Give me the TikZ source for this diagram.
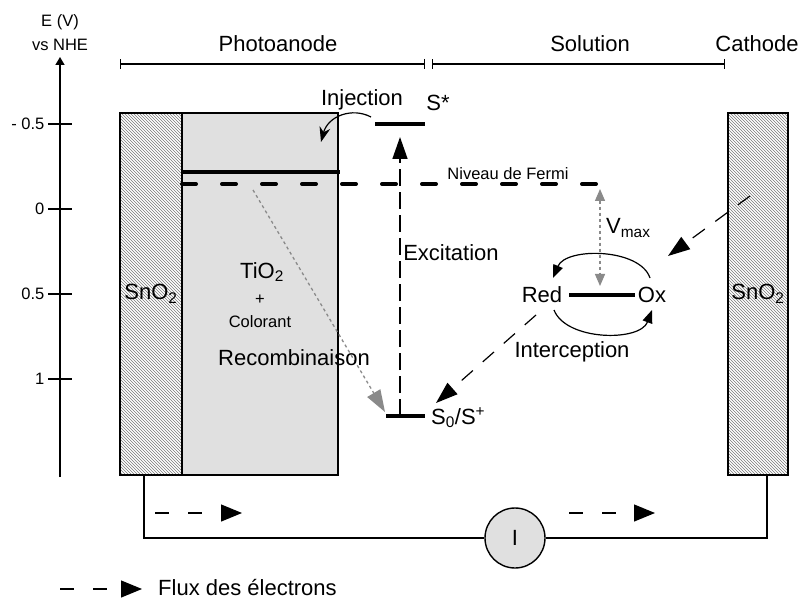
\documentclass[tikz,border=0pt]{standalone}
\usepackage{fontspec}
\setmainfont{Liberation Sans}
\usetikzlibrary{positioning, arrows.meta, patterns, calc}
\definecolor{tiog}{HTML}{E0E0E0}
\definecolor{hatch}{HTML}{7A7A7A}
\definecolor{dotg}{HTML}{8A8A8A}
\tikzset{
  big/.style={font=\fontsize{22}{26}\selectfont, inner sep=0pt},
  sml/.style={font=\fontsize{16.5}{19}\selectfont, inner sep=0pt},
  eaxis/.style={line width=1.4pt},
  brk/.style={{Bar[width=10pt]}-{Bar[width=10pt]}, line width=1.2pt},
  snbox/.style={draw, pattern=north west lines, pattern color=hatch, line width=1.4pt,
                minimum width=#1, minimum height=362pt, inner sep=0pt,
                font=\fontsize{22}{26}\selectfont},
  tiobox/.style={draw, fill=tiog, line width=1.4pt, minimum width=156pt, minimum height=362pt},
  lvl/.style={line width=4pt},
  fermi/.style={line width=4pt, line cap=round, dash pattern=on 14pt off 26pt},
  exc/.style={-{Triangle[length=22pt, width=15pt]}, line width=1.5pt, dash pattern=on 17pt off 6pt},
  edsh/.style={-{Triangle[length=22pt, width=15pt]}, line width=1.2pt, dash pattern=on 15pt off 13pt},
  rec/.style={-{Triangle[length=22pt, width=15pt]}, draw=dotg, line width=1.3pt, dash pattern=on 3pt off 3pt},
  vmx/.style={{Triangle[length=12pt, width=10pt]}-{Triangle[length=12pt, width=10pt]}, draw=dotg,
              line width=1.3pt, dash pattern=on 3pt off 3pt},
  cyc/.style={-{Triangle[length=13pt, width=10pt]}, line width=1.2pt},
  inj/.style={-{Stealth[length=15pt, width=11pt]}, line width=1.2pt},
  wire/.style={line width=2.2pt},
  flow/.style={-{Triangle[length=21pt, width=17pt]}, line width=1.2pt, dash pattern=on 14pt off 19pt},
  meter/.style={circle, draw, fill=tiog, line width=1.4pt, minimum size=60pt, inner sep=0pt,
                font=\fontsize{22}{26}\selectfont},
}

\begin{document}
\begin{tikzpicture}[x=1pt, y=-1pt]
  \fill[white] (0,0) rectangle (802,601);
  \useasboundingbox (0,0) rectangle (802,601);

  % energy axis
  \coordinate (axb) at (60,477);
  \coordinate (axt) at (60,57);
  \draw[eaxis, -{Triangle[length=8pt, width=9pt]}] (axb) -- (axt);
  \node[sml] (eunit) at (60,22) {E (V)};
  \node[sml] (nhe)   at (60,45) {vs NHE};
  \foreach \v/\y in {- 0.5/124, 0/209, 0.5/294, 1/379}
    \draw[eaxis] (48,\y) -- (72,\y) node[sml, pos=0, anchor=east, xshift=-3pt] {\v};

  % zones
  \coordinate (pha) at (120,64);
  \coordinate (phb) at (425,64);
  \coordinate (sla) at (432,64);
  \coordinate (slb) at (725,64);
  \draw[brk] (pha) -- (phb);
  \draw[brk] (sla) -- (slb);
  \node[big] (phot) at (278,44) {Photoanode};
  \node[big] (solu) at (590,44) {Solution};
  \node[big] (cath) at (757,44) {Cathode};

  % electrodes
  \node[tiobox]         (tio) at (260,294) {};
  \node[snbox=62pt]     (snl) at (151,294) {SnO\textsubscript{2}};
  \node[snbox=60pt]     (snr) at (758,294) {SnO\textsubscript{2}};
  \node[big] (tiot) at (262,272) {TiO\textsubscript{2}};
  \node[sml] (plus) at (260,300) {+};
  \node[sml] (colo) at (260,322) {Colorant};

  % levels
  \coordinate (cba) at (182,172);
  \coordinate (cbb) at (340,172);
  \draw[lvl] (cba) -- (cbb);
  \coordinate (fla) at (182,184);
  \coordinate (flb) at (600,184);
  \draw[fermi] (fla) -- (flb);
  \node[sml] (ferm) at (508,174) {Niveau de Fermi};
  \coordinate (ssa) at (375,124);
  \coordinate (ssb) at (425,124);
  \draw[lvl] (ssa) -- (ssb);
  \node[big] (sstar) at (438,103) {S*};
  \coordinate (s0a) at (386,416);
  \coordinate (s0b) at (425,416);
  \draw[lvl] (s0a) -- (s0b);
  \node[big, anchor=west] (szero) at (431,418) {S\textsubscript{0}/S\textsuperscript{+}};

  % injection, excitation, recombination
  \node[big] (injt) at (362,100) {Injection};
  \coordinate (inja) at (371,117);
  \coordinate (injb) at (321,142);
  \draw[inj] (inja) .. controls (352,107) and (328,116) .. (injb);
  \coordinate (exa) at (400,416);
  \coordinate (exb) at (400,137);
  \draw[exc] (exa) -- (exb);
  \node[big] (exct) at (451,253) {Excitation};
  \coordinate (rca) at (253,190);
  \coordinate (rcb) at (385,412);
  \draw[rec] (rca) -- (rcb);
  \node[big] (rect) at (294,358) {Recombinaison};

  % redox couple
  \node[big] (red) at (542,295) {Red};
  \node[big] (ox)  at (652,295) {Ox};
  \draw[lvl] ([xshift=7pt]red.east) -- ([xshift=-3pt]ox.west);
  \coordinate (vma) at (600,189);
  \coordinate (vmb) at (600,286);
  \draw[vmx] (vma) -- (vmb);
  \node[big, anchor=west] (vmax) at (606,228) {V\textsubscript{max}};
  \coordinate (oxt)  at (650,278);
  \coordinate (redt) at (553,278);
  \coordinate (redb) at (554,310);
  \coordinate (oxb)  at (652,310);
  \draw[cyc] (oxt) .. controls (640,248) and (566,247) .. (redt);
  \draw[cyc] (redb) .. controls (566,341) and (640,342) .. (oxb);
  \node[big] (intc) at (572,352) {Interception};
  \coordinate (rda) at (536,315);
  \coordinate (rdb) at (436,403);
  \draw[edsh] (rda) -- (rdb);
  \coordinate (cta) at (750,196);
  \coordinate (ctb) at (668,256);
  \draw[edsh] (cta) -- (ctb);

  % external circuit
  \coordinate (cl) at (144,475);
  \coordinate (cr) at (767,475);
  \node[meter] (mtr) at (515,538) {I};
  \draw[wire] (cl) |- (mtr);
  \draw[wire] (mtr) -| (cr);
  \coordinate (fwa) at (155,513);
  \coordinate (fwb) at (242,513);
  \draw[flow] (fwa) -- (fwb);
  \coordinate (fwc) at (569,513);
  \coordinate (fwd) at (655,513);
  \draw[flow] (fwc) -- (fwd);

  % legend
  \coordinate (lga) at (60,589);
  \coordinate (lgb) at (142,589);
  \draw[flow] (lga) -- (lgb);
  \node[big, anchor=west] (lgt) at (158,588) {Flux des électrons};
\end{tikzpicture}
\end{document}
